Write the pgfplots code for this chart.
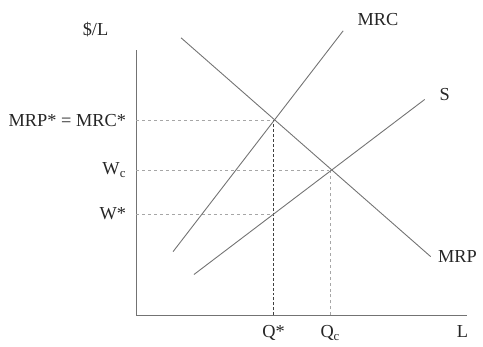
\documentclass[border=0pt]{standalone}
\usepackage{pgfplots}
\pgfplotsset{compat=1.18}
\usepackage{fontspec}
\setmainfont{Liberation Serif}
\begin{document}
\fontsize{18.5}{21}\selectfont
\begin{tikzpicture}
\begin{axis}[
  x=1bp, y=1bp,
  xmin=137, xmax=470, ymin=27, ymax=294,
  axis lines=left,
  axis line style={-, draw=black!55, line width=0.9pt},
  xtick={275,332}, xticklabels={Q*, Q\textsubscript{c}},
  ytick={129,173,223}, yticklabels={W*, W\textsubscript{c}, MRP* = MRC*},
  major tick length=0pt,
  tick label style={font=\fontsize{18.5}{21}\selectfont, text=black!85},
  xticklabel style={yshift=-4bp},
  yticklabel style={xshift=-4bp},
  clip=false,
]
\path (axis cs:0,0) rectangle (axis cs:483,344);
% guide lines
\addplot[black!35, dashed, line width=0.6pt] coordinates {(137,223) (275,223)};
\addplot[black!35, dashed, line width=0.6pt] coordinates {(137,173) (332,173)};
\addplot[black!35, dashed, line width=0.6pt] coordinates {(137,129) (275,129)};
\addplot[black!75, densely dashed, line width=0.6pt] coordinates {(275,27) (275,223)};
\addplot[black!35, dashed, line width=0.6pt] coordinates {(332,27) (332,173)};
% curves
\addplot[black!55, line width=0.9pt] coordinates {(174,91) (345,313)};
\addplot[black!55, line width=0.9pt] coordinates {(182,306) (433,86)};
\addplot[black!55, line width=0.9pt] coordinates {(195,68) (427,244)};
% labels
\node[text=black!85] at (axis cs:96,314) {\$/L};
\node[text=black!85] at (axis cs:380,324) {MRC};
\node[text=black!85] at (axis cs:447,249) {S};
\node[text=black!85] at (axis cs:460,86) {MRP};
\node[text=black!85] at (axis cs:465,11) {L};
\end{axis}
\end{tikzpicture}
\end{document}
